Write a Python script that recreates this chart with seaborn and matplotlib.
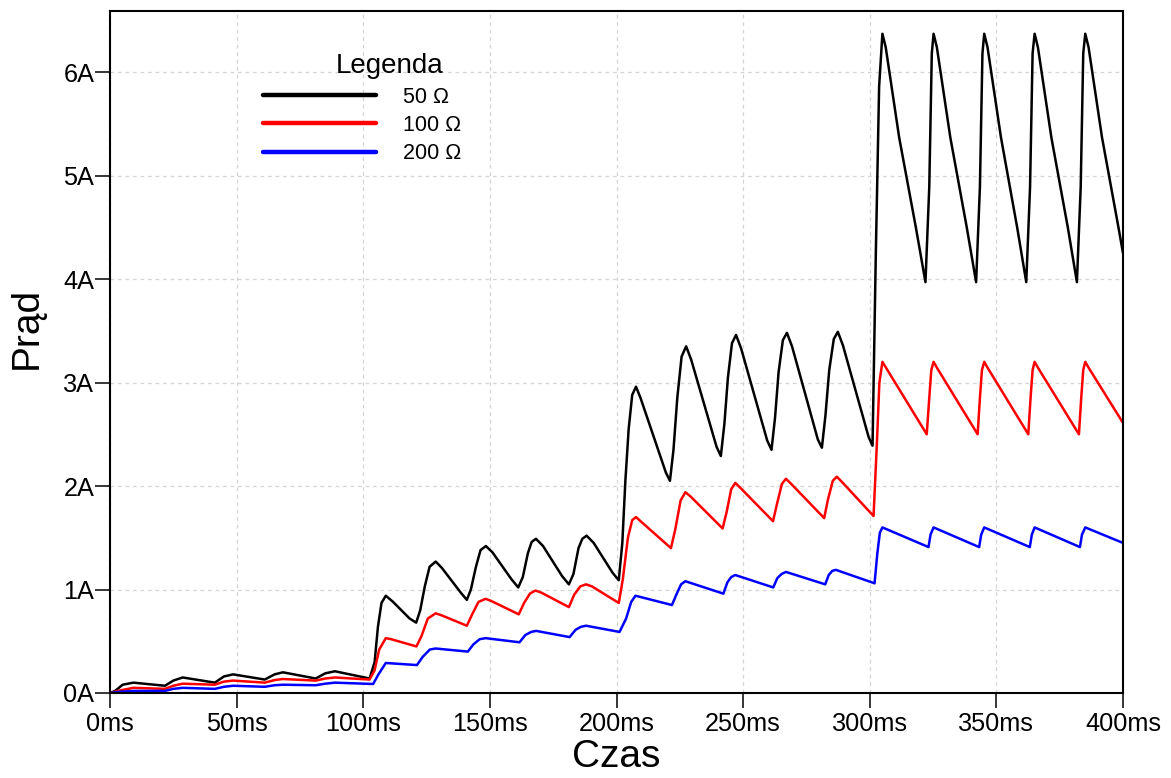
import matplotlib
matplotlib.use("Agg")
import matplotlib.pyplot as plt
import seaborn as sns
import pandas as pd
from matplotlib.lines import Line2D

# ---- data ----
series_names = ["50 Ω", "100 Ω", "200 Ω"]
series_colors = ["#000000", "#ff0000", "#0000ff"]

t_50 = [0, 2, 5, 9.2, 21.7, 25, 28.7, 41.4, 45, 48.6, 61.1, 65, 68.3, 81.2, 85, 88.8, 102.5,
        104.5, 105.8, 107.2, 108.9, 111.8, 118.3, 120.9, 122.5, 124.3, 126.2, 128.6, 131, 138.5,
        140.9, 142.5, 144.5, 146.3, 148.4, 151, 158.5, 161.2, 163, 165, 166.5, 168.2, 171, 178.5,
        181.2, 183, 185, 186.5, 188.2, 191, 198.5, 200.9, 202.3, 203.5, 204.8, 206.2, 207.7,
        209.5, 219.5, 221.1, 222.5, 224, 225.7, 227.5, 229.5, 239.5, 241.2, 242.6, 244, 245.6,
        247.2, 249.2, 259.5, 261.2, 262.6, 264, 265.7, 267.3, 269.3, 279.5, 281.1, 282.5, 284,
        285.8, 287.4, 289.4, 299.6, 301.1, 302.4, 303.7, 305.0, 306.3, 311.6, 318.2, 322.0,
        323.5, 324.5, 325.2, 326.5, 331.8, 338.3, 342.0, 343.5, 344.5, 345.2, 346.5, 351.8,
        358.2, 361.8, 363.3, 364.3, 365.1, 366.4, 371.7, 378.2, 381.8, 383.3, 384.3, 385.1,
        386.4, 391.7, 398.2, 400]
i_50 = [0, 0.02, 0.08, 0.10, 0.07, 0.12, 0.15, 0.10, 0.16, 0.18, 0.13, 0.18, 0.20, 0.14, 0.19, 0.21, 0.14,
        0.30, 0.64, 0.87, 0.94, 0.88, 0.72, 0.68, 0.80, 1.03, 1.22, 1.27, 1.21, 0.97,
        0.90, 1.00, 1.22, 1.38, 1.42, 1.36, 1.10, 1.02, 1.12, 1.35, 1.46, 1.49, 1.42, 1.13,
        1.05, 1.15, 1.40, 1.49, 1.52, 1.45, 1.16, 1.09, 1.45, 2.05, 2.55, 2.88, 2.96,
        2.85, 2.13, 2.05, 2.35, 2.85, 3.25, 3.35, 3.22, 2.38, 2.29, 2.60, 3.05, 3.38,
        3.46, 3.33, 2.44, 2.35, 2.66, 3.10, 3.41, 3.48, 3.35, 2.45, 2.37, 2.68, 3.12,
        3.42, 3.49, 3.36, 2.47, 2.39, 4.25, 5.86, 6.37, 6.24, 5.37, 4.50, 3.97,
        4.89, 6.18, 6.37, 6.24, 5.37, 4.50, 3.97, 4.89, 6.18, 6.37, 6.24, 5.37,
        4.50, 3.97, 4.89, 6.18, 6.37, 6.24, 5.37, 4.50, 3.97, 4.89, 6.18, 6.37,
        6.24, 5.37, 4.50, 4.25]

t_100 = [0, 3, 9.2, 21.7, 25, 28.7, 41.4, 45, 48.6, 61.1, 65, 68.3, 81.2, 85, 88.8, 102.5,
         104.5, 106.3, 108.9, 111, 121, 123, 125.5, 128.6, 131, 140.9, 143, 145.5, 148.3, 150.5,
         161.4, 163.5, 165.8, 168, 170.3, 181.2, 183.3, 185.7, 188, 190.3, 200.9, 202.5, 204.5,
         206.2, 207.7, 209.5, 221.5, 223.2, 225.3, 227.2, 229.2, 241.9, 243.5, 245.3, 246.9, 249,
         261.8, 263.4, 265.3, 266.9, 269, 282, 283.5, 285.4, 287, 289, 301.5, 302.8, 303.8, 305.0,
         306.5, 322.5, 323.5, 324.3, 325.2, 326.6, 342.6, 343.5, 344.3, 345.2, 346.6, 362.6,
         363.5, 364.3, 365.1, 366.5, 382.6, 383.5, 384.3, 385.1, 386.5, 400]
i_100 = [0, 0.02, 0.05, 0.04, 0.07, 0.09, 0.08, 0.11, 0.12, 0.10, 0.125, 0.135, 0.12, 0.14, 0.15, 0.13,
         0.22, 0.42, 0.53, 0.52, 0.45, 0.55, 0.72, 0.77, 0.75, 0.65, 0.76, 0.88, 0.91, 0.89,
         0.76, 0.87, 0.96, 0.99, 0.97, 0.83, 0.95, 1.03, 1.05, 1.03, 0.87, 1.10, 1.50,
         1.67, 1.70, 1.66, 1.40, 1.58, 1.86, 1.94, 1.90, 1.59, 1.75, 1.97, 2.03, 1.98,
         1.66, 1.83, 2.02, 2.07, 2.02, 1.69, 1.87, 2.05, 2.09, 2.04, 1.71, 2.40, 3.00, 3.20,
         3.14, 2.50, 2.85, 3.12, 3.20, 3.14, 2.50, 2.85, 3.12, 3.20, 3.14, 2.50,
         2.85, 3.12, 3.20, 3.14, 2.50, 2.85, 3.12, 3.20, 3.14, 2.61]

t_200 = [0, 3, 9.2, 21.7, 25, 28.7, 41.4, 45, 48.6, 61.1, 65, 68.3, 81.2, 85, 88.8, 103.9,
         106, 108.9, 121.2, 123.5, 126.3, 128.6, 141.3, 143.5, 146, 148.3, 161.7, 164, 166.3,
         168.3, 181.5, 183.8, 186, 188, 201.2, 203.8, 205.8, 207.5, 221.9, 223.8, 225.5, 227.2,
         242.2, 243.8, 245.3, 246.9, 261.9, 263.5, 265.2, 266.9, 282.4, 283.8, 285.2, 286.6,
         301.9, 303.0, 304.0, 305.0, 323.2, 324.0, 325.2, 343.2, 344.0, 345.2, 363.2, 364.0,
         365.1, 383.0, 383.8, 385.1, 400]
i_200 = [0, 0.01, 0.02, 0.02, 0.04, 0.05, 0.04, 0.06, 0.07, 0.06, 0.075, 0.08, 0.075, 0.09, 0.10, 0.087,
         0.18, 0.29, 0.27, 0.35, 0.42, 0.43, 0.40, 0.47, 0.52, 0.53, 0.49, 0.56, 0.59,
         0.60, 0.54, 0.61, 0.64, 0.65, 0.59, 0.72, 0.88, 0.94, 0.85, 0.96, 1.05, 1.08,
         0.96, 1.07, 1.12, 1.14, 1.02, 1.11, 1.15, 1.17, 1.05, 1.14, 1.18, 1.19,
         1.06, 1.35, 1.55, 1.60, 1.41, 1.53, 1.60, 1.41, 1.53, 1.60, 1.41, 1.53,
         1.60, 1.41, 1.53, 1.60, 1.45]

x_ticks = [0, 50, 100, 150, 200, 250, 300, 350, 400]
x_tick_labels = ["0ms", "50ms", "100ms", "150ms", "200ms", "250ms", "300ms", "350ms", "400ms"]
y_ticks = [0, 1, 2, 3, 4, 5, 6]
y_tick_labels = ["0A", "1A", "2A", "3A", "4A", "5A", "6A"]

# ---- build a long table ----
frames = []
for name, t, v in zip(series_names, [t_50, t_100, t_200], [i_50, i_100, i_200]):
    frames.append(pd.DataFrame({"Czas": t, "Prąd": v, "series": name}))
df = pd.concat(frames, ignore_index=True)

sns.set_style("white")
plt.rcParams["font.family"] = ["Liberation Sans", "DejaVu Sans"]
plt.rcParams["text.color"] = "black"
plt.rcParams["axes.labelcolor"] = "black"

fig = plt.figure(figsize=(11.71, 7.78), dpi=100)
ax = fig.add_axes([110 / 1171, 85 / 778, 1013 / 1171, 682 / 778])

sns.lineplot(data=df, x="Czas", y="Prąd", hue="series", hue_order=series_names,
             palette=dict(zip(series_names, series_colors)), sort=False,
             estimator=None, units="series", linewidth=1.8, ax=ax, legend=False)

ax.set_xlim(0, 400)
ax.set_ylim(0, 6.59)
ax.set_xticks(x_ticks)
ax.set_xticklabels(x_tick_labels)
ax.set_yticks(y_ticks)
ax.set_yticklabels(y_tick_labels)

ax.grid(True, color="#d4d4d4", linestyle=(0, (3, 3)), linewidth=0.9)
ax.set_axisbelow(True)
for sp in ax.spines.values():
    sp.set_visible(True)
    sp.set_color("black")
    sp.set_linewidth(1.5)

ax.tick_params(axis="both", direction="out", length=11, width=1.1, color="black",
               labelsize=18.2, labelcolor="black", bottom=True, left=True,
               top=False, right=False)
ax.tick_params(axis="y", pad=0.3)
ax.tick_params(axis="x", pad=2.5)

ax.set_xlabel("Czas", fontsize=28, color="black")
ax.set_ylabel("Prąd", fontsize=28, color="black")
ax.xaxis.set_label_coords(0.5, -0.094)
ax.xaxis.label.set_va("center")
ax.yaxis.set_label_coords(-0.082, 0.535)
ax.yaxis.label.set_va("center")

handles = [Line2D([0], [0], color=c, linewidth=3.2) for c in series_colors]
leg = ax.legend(handles, series_names, loc="upper left", bbox_to_anchor=(0.151, 0.889),
                frameon=False, fontsize=15.5, handlelength=5.25, handletextpad=1.25,
                labelspacing=0.34, borderpad=0, borderaxespad=0)
for txt in leg.get_texts():
    txt.set_color("black")
ax.text(0.276, 0.920, "Legenda", transform=ax.transAxes, fontsize=20,
        ha="center", va="center", color="black")

fig.savefig("out.png", dpi=100)
